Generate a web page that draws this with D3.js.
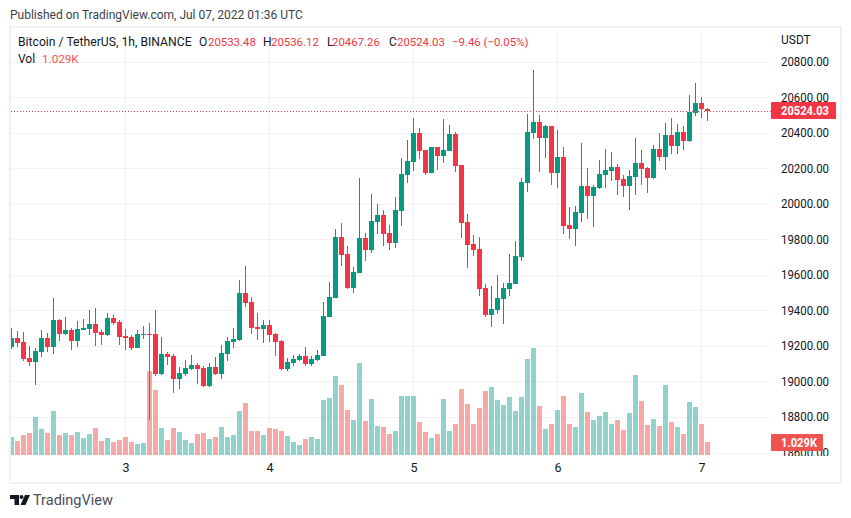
<!DOCTYPE html>
<html>
<head>
<meta charset="utf-8">
<script src="https://cdnjs.cloudflare.com/ajax/libs/d3/7.8.5/d3.min.js"></script>
<style>
html, body { margin: 0; padding: 0; background: #fff; }
svg { display: block; }
text { font-family: Roboto, sans-serif; }
</style>
</head>
<body>
<div id="chart"></div>
<script>
/* hourly candles */
var opens = [19193,19244,19222,19132,19109,19165,19244,19193,19345,19267,
	19289,19227,19289,19295,19323,19278,19261,19357,19334,19255,
	19250,19188,19261,19267,19267,19042,19154,19143,19013,19042,
	19070,19092,19075,18974,19081,19042,19154,19222,19233,19497,
	19447,19306,19295,19317,19267,19227,19070,19103,19120,19143,
	19098,19120,19143,19362,19469,19812,19717,19525,19610,19807,
	19739,19897,19936,19835,19778,19958,20161,20234,20397,20302,
	20172,20319,20268,20296,20392,20217,19897,19773,19745,19525,
	19373,19401,19463,19520,19548,19700,20116,20397,20459,20369,
	20437,20172,20262,19880,19857,19947,20099,20043,20088,20161,
	20184,20206,20139,20099,20150,20229,20201,20144,20307,20262,
	20386,20324,20403,20352,20510,20566,20533.48]
var highs = [19300,19284,19278,19199,19188,19289,19272,19469,19351,19362,
	19300,19340,19351,19402,19413,19289,19385,19374,19345,19295,
	19261,19289,19312,19329,19402,19250,19165,19154,19081,19120,
	19148,19103,19087,19103,19137,19205,19250,19300,19571,19649,
	19475,19385,19345,19345,19272,19233,19132,19148,19154,19193,
	19143,19177,19447,19559,19857,19891,19762,19643,20144,19835,
	20054,19998,19964,19880,20037,20257,20358,20482,20425,20302,
	20319,20319,20476,20442,20403,20217,19941,19823,19812,19548,
	19536,19598,19553,19716,19790,20144,20504,20752,20499,20442,
	20437,20414,20319,19981,19987,20341,20200,20105,20246,20307,
	20291,20223,20161,20189,20369,20302,20206,20330,20398,20454,
	20482,20448,20437,20611,20679,20600,20536.12]
var lows = [19182,19193,19115,19087,18980,19137,19165,19154,19227,19261,
	19177,19193,19289,19261,19199,19205,19255,19317,19205,19177,
	19177,19186,19238,18783,19030,19036,19092,18935,18957,19030,
	19064,18985,18968,18968,19036,19013,19115,19188,19227,19419,
	19267,19233,19216,19222,19143,19064,19058,19087,19115,19087,
	19087,19115,19143,19362,19469,19649,19520,19497,19610,19677,
	19722,19829,19762,19739,19750,19874,20116,20183,20251,20161,
	20172,20189,20229,20296,20178,19806,19638,19705,19480,19362,
	19306,19379,19323,19480,19548,19677,20065,20364,20178,20257,
	20105,20088,19829,19801,19761,19897,19913,19869,20082,20088,
	20127,20049,20037,19964,20049,20105,20060,20139,20240,20189,
	20279,20279,20302,20347,20493,20482,20467.26]
var closes = [19244,19216,19126,19109,19171,19244,19193,19345,19267,19289,
	19227,19295,19300,19323,19272,19261,19357,19329,19250,19244,
	19188,19267,19267,19261,19042,19154,19137,19013,19047,19075,
	19092,19070,18974,19081,19042,19160,19227,19238,19497,19441,
	19300,19295,19317,19261,19222,19070,19109,19126,19143,19098,
	19126,19148,19368,19475,19812,19711,19525,19615,19807,19739,
	19902,19936,19829,19778,19964,20167,20240,20397,20296,20172,
	20319,20268,20302,20392,20212,19891,19767,19739,19520,19373,
	19407,19469,19525,19553,19705,20122,20403,20459,20369,20437,
	20172,20262,19874,19857,19953,20099,20043,20094,20167,20189,
	20206,20133,20099,20156,20229,20195,20144,20307,20262,20386,
	20324,20403,20352,20516,20566,20533,20524.03]
/* volume in thousands */
var volumes = [1.43,1.11,1.58,1.74,3.01,2.06,1.74,3.48,1.58,1.74,
	1.58,1.82,1.35,1.66,2.14,1.11,1.35,1.03,1.19,1.43,
	1.03,.87,.95,6.65,5.15,2.14,1.19,2.14,1.82,1.19,
	.95,1.66,1.74,1.27,1.43,2.22,1.43,1.58,3.48,4.12,
	1.90,1.90,1.58,2.14,2.06,1.90,1.50,1.03,.79,1.27,
	1.43,1.27,4.36,4.51,6.26,5.54,3.56,2.77,7.29,2.69,
	4.44,2.30,2.22,1.66,1.90,4.67,4.67,4.67,2.61,1.82,
	1.35,1.66,4.44,1.90,2.45,5.23,4.04,2.45,3.72,5.07,
	5.39,4.36,3.96,4.59,3.48,4.59,7.60,8.47,3.88,2.06,
	2.45,3.56,4.67,2.45,2.22,4.91,3.41,2.77,3.09,3.41,
	2.45,2.77,1.98,3.33,6.34,4.28,2.38,2.85,2.30,5.54,
	2.61,2.22,1.66,4.20,3.80,2.45,1.029]

var priceTicks = [18600,18800,19000,19200,19400,19600,19800,20000,20200,20400,20600,20800]
var dayTicks = [19,43,67,91,115]
var dayLabels = ["3","4","5","6","7"]
var lastClose = 20524.03
var lastVolume = "1.029K"

var green = "#089981", red = "#f23645",
	volGreen = "#26a69a", volRed = "#ef5350",
	gridColor = "#f2f3f7", frameColor = "#f0f1f7", textColor = "#131722"

var width = 851, height = 518

var x = d3.scaleLinear().domain([0, 116]).range([11.5, 707.5])
var y = d3.scaleLinear().domain([18600, 20800]).range([452.5, 61.5])
var yVol = d3.scaleLinear().domain([0, 10]).range([455, 328.7])

var svg = d3.select("#chart").append("svg")
	.attr("width", width)
	.attr("height", height)

svg.append("text")
	.attr("x", 10).attr("y", 19)
	.attr("font-size", 12).attr("fill", "#3b3f4a")
	.text("Published on TradingView.com, Jul 07, 2022 01:36 UTC")

/* frame */
svg.append("rect")
	.attr("x", 10).attr("y", 27)
	.attr("width", 831).attr("height", 456)
	.attr("fill", "none")
	.attr("stroke", frameColor)
	.attr("stroke-width", 2)

svg.append("clipPath").attr("id", "pane")
	.append("rect").attr("x", 11).attr("y", 28).attr("width", 760).attr("height", 428)
svg.append("clipPath").attr("id", "scale")
	.append("rect").attr("x", 771).attr("y", 28).attr("width", 69).attr("height", 428)

var pane = svg.append("g").attr("clip-path", "url(#pane)")

/* grid */
pane.selectAll(".hgrid").data(priceTicks).enter().append("line")
	.attr("x1", 11).attr("x2", 771)
	.attr("y1", function(d){ return Math.round(y(d)) + .5 })
	.attr("y2", function(d){ return Math.round(y(d)) + .5 })
	.attr("stroke", gridColor)
pane.selectAll(".vgrid").data(dayTicks).enter().append("line")
	.attr("x1", x).attr("x2", x)
	.attr("y1", 28).attr("y2", 456)
	.attr("stroke", gridColor)

/* volume */
pane.selectAll(".vol").data(volumes).enter().append("rect")
	.attr("x", function(d, i){ return x(i) - 2.5 })
	.attr("width", 5)
	.attr("y", function(d){ return Math.round(yVol(d)) })
	.attr("height", function(d){ return 455 - Math.round(yVol(d)) })
	.attr("fill", function(d, i){ return closes[i] >= opens[i] ? volGreen : volRed })
	.attr("fill-opacity", .5)

/* candles */
var candle = pane.selectAll(".candle").data(d3.range(opens.length)).enter().append("g")
	.attr("fill", function(i){ return closes[i] >= opens[i] ? green : red })

candle.append("rect")
	.attr("x", function(i){ return x(i) - .5 })
	.attr("width", 1)
	.attr("y", function(i){ return Math.round(y(highs[i])) })
	.attr("height", function(i){ return Math.max(1, Math.round(y(lows[i])) - Math.round(y(highs[i]))) })

candle.append("rect")
	.attr("x", function(i){ return x(i) - 2.5 })
	.attr("width", 5)
	.attr("y", function(i){ return Math.round(y(Math.max(opens[i], closes[i]))) })
	.attr("height", function(i){
		return Math.max(1, Math.round(y(Math.min(opens[i], closes[i]))) - Math.round(y(Math.max(opens[i], closes[i]))))
	})

/* last price line */
pane.append("line")
	.attr("x1", 11).attr("x2", 771)
	.attr("y1", Math.round(y(lastClose)) + .5)
	.attr("y2", Math.round(y(lastClose)) + .5)
	.attr("stroke", red)
	.attr("stroke-dasharray", "1 2")

/* axes */
var priceAxis = d3.axisRight(y)
	.tickValues(priceTicks)
	.tickFormat(function(d){ return d.toFixed(2) })
	.tickSize(0)
	.tickPadding(10)

var priceG = svg.append("g")
	.attr("clip-path", "url(#scale)")
	.append("g")
	.attr("transform", "translate(771,0)")
	.call(priceAxis)
priceG.select(".domain").remove()
priceG.selectAll("text")
	.attr("font-size", 12.5)
	.attr("font-family", "Roboto, sans-serif")
	.attr("fill", textColor)
	.attr("textLength", 48)
	.attr("lengthAdjust", "spacingAndGlyphs")

var timeAxis = d3.axisBottom(x)
	.tickValues(dayTicks)
	.tickFormat(function(d, i){ return dayLabels[i] })
	.tickSize(0)
	.tickPadding(7)

var timeG = svg.append("g")
	.attr("transform", "translate(0,456)")
	.call(timeAxis)
timeG.select(".domain").remove()
timeG.selectAll("text")
	.attr("font-size", 12.5)
	.attr("font-family", "Roboto, sans-serif")
	.attr("fill", textColor)

svg.append("text")
	.attr("x", 781).attr("y", 44)
	.attr("font-size", 12).attr("fill", textColor)
	.text("USDT")

/* price tags */
var priceTag = svg.append("g")
priceTag.append("rect")
	.attr("x", 771).attr("y", 102)
	.attr("width", 65).attr("height", 17)
	.attr("rx", 1)
	.attr("fill", red)
priceTag.append("text")
	.attr("x", 781).attr("y", 115)
	.attr("font-size", 12.5).attr("font-weight", 700).attr("fill", "#fff")
	.attr("textLength", 48).attr("lengthAdjust", "spacingAndGlyphs")
	.text(lastClose.toFixed(2))

var volTag = svg.append("g")
volTag.append("rect")
	.attr("x", 771).attr("y", 434)
	.attr("width", 52).attr("height", 17)
	.attr("rx", 1)
	.attr("fill", volRed)
volTag.append("text")
	.attr("x", 781).attr("y", 447)
	.attr("font-size", 12.5).attr("font-weight", 700).attr("fill", "#fff")
	.attr("textLength", 36).attr("lengthAdjust", "spacingAndGlyphs")
	.text(lastVolume)

/* legend */
var legendRed = "#f23645"
var legend = [
	{x: 18, y: 46, t: "Bitcoin / TetherUS, 1h, BINANCE", c: textColor, s: 12.2},
	{x: 199, y: 46, t: "O", c: textColor, s: 12},
	{x: 208, y: 46, t: "20533.48", c: legendRed, s: 11.4},
	{x: 263, y: 46, t: "H", c: textColor, s: 12},
	{x: 271, y: 46, t: "20536.12", c: legendRed, s: 11.4},
	{x: 327, y: 46, t: "L", c: textColor, s: 12},
	{x: 332, y: 46, t: "20467.26", c: legendRed, s: 11.4},
	{x: 389, y: 46, t: "C", c: textColor, s: 12},
	{x: 397, y: 46, t: "20524.03", c: legendRed, s: 11.4},
	{x: 452, y: 46, t: "\u22129.46 (\u22120.05%)", c: legendRed, s: 11.4},
	{x: 18, y: 63, t: "Vol", c: textColor, s: 12},
	{x: 42, y: 63, t: "1.029K", c: volRed, s: 11.7}
]
svg.selectAll(".legend").data(legend).enter().append("text")
	.attr("x", function(d){ return d.x })
	.attr("y", function(d){ return d.y })
	.attr("fill", function(d){ return d.c })
	.attr("font-size", function(d){ return d.s })
	.text(function(d){ return d.t })

/* logo */
var logo = svg.append("g").attr("transform", "translate(10,495)").attr("fill", "#131722")
logo.append("path").attr("d", "M0 0H9V10H4.5V4H0Z")
logo.append("circle").attr("cx", 11.5).attr("cy", 2).attr("r", 2)
logo.append("path").attr("d", "M15 0H20L15.5 10H10.5Z")
svg.append("text")
	.attr("x", 33).attr("y", 505)
	.attr("font-size", 14.5).attr("fill", "#4a4e5a")
	.text("TradingView")
</script>
</body>
</html>
